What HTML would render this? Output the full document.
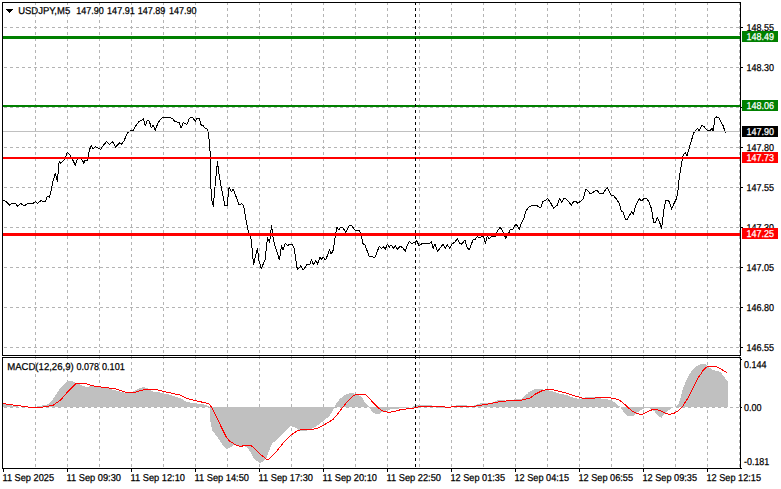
<!DOCTYPE html>
<html><head><meta charset="utf-8"><title>USDJPY,M5</title>
<style>html,body{margin:0;padding:0;background:#fff;overflow:hidden}svg{display:block}text{font-family:"Liberation Sans",sans-serif;}</style>
</head><body>
<svg width="781" height="489" viewBox="0 0 781 489">
<rect x="0" y="0" width="781" height="489" fill="#ffffff"/>
<g shape-rendering="crispEdges" stroke="#b4b4b4" stroke-width="1" stroke-dasharray="3 3" fill="none">
<line x1="35.5" y1="2" x2="35.5" y2="355"/>
<line x1="35.5" y1="356" x2="35.5" y2="468"/>
<line x1="67.5" y1="2" x2="67.5" y2="355"/>
<line x1="67.5" y1="356" x2="67.5" y2="468"/>
<line x1="99.5" y1="2" x2="99.5" y2="355"/>
<line x1="99.5" y1="356" x2="99.5" y2="468"/>
<line x1="131.5" y1="2" x2="131.5" y2="355"/>
<line x1="131.5" y1="356" x2="131.5" y2="468"/>
<line x1="163.5" y1="2" x2="163.5" y2="355"/>
<line x1="163.5" y1="356" x2="163.5" y2="468"/>
<line x1="195.5" y1="2" x2="195.5" y2="355"/>
<line x1="195.5" y1="356" x2="195.5" y2="468"/>
<line x1="227.5" y1="2" x2="227.5" y2="355"/>
<line x1="227.5" y1="356" x2="227.5" y2="468"/>
<line x1="259.5" y1="2" x2="259.5" y2="355"/>
<line x1="259.5" y1="356" x2="259.5" y2="468"/>
<line x1="291.5" y1="2" x2="291.5" y2="355"/>
<line x1="291.5" y1="356" x2="291.5" y2="468"/>
<line x1="323.5" y1="2" x2="323.5" y2="355"/>
<line x1="323.5" y1="356" x2="323.5" y2="468"/>
<line x1="355.5" y1="2" x2="355.5" y2="355"/>
<line x1="355.5" y1="356" x2="355.5" y2="468"/>
<line x1="387.5" y1="2" x2="387.5" y2="355"/>
<line x1="387.5" y1="356" x2="387.5" y2="468"/>
<line x1="419.5" y1="2" x2="419.5" y2="355"/>
<line x1="419.5" y1="356" x2="419.5" y2="468"/>
<line x1="451.5" y1="2" x2="451.5" y2="355"/>
<line x1="451.5" y1="356" x2="451.5" y2="468"/>
<line x1="483.5" y1="2" x2="483.5" y2="355"/>
<line x1="483.5" y1="356" x2="483.5" y2="468"/>
<line x1="515.5" y1="2" x2="515.5" y2="355"/>
<line x1="515.5" y1="356" x2="515.5" y2="468"/>
<line x1="547.5" y1="2" x2="547.5" y2="355"/>
<line x1="547.5" y1="356" x2="547.5" y2="468"/>
<line x1="579.5" y1="2" x2="579.5" y2="355"/>
<line x1="579.5" y1="356" x2="579.5" y2="468"/>
<line x1="611.5" y1="2" x2="611.5" y2="355"/>
<line x1="611.5" y1="356" x2="611.5" y2="468"/>
<line x1="643.5" y1="2" x2="643.5" y2="355"/>
<line x1="643.5" y1="356" x2="643.5" y2="468"/>
<line x1="675.5" y1="2" x2="675.5" y2="355"/>
<line x1="675.5" y1="356" x2="675.5" y2="468"/>
<line x1="707.5" y1="2" x2="707.5" y2="355"/>
<line x1="707.5" y1="356" x2="707.5" y2="468"/>
<line x1="739.5" y1="2" x2="739.5" y2="355"/>
<line x1="739.5" y1="356" x2="739.5" y2="468"/>
<line x1="4" y1="27.5" x2="740" y2="27.5"/>
<line x1="4" y1="67.5" x2="740" y2="67.5"/>
<line x1="4" y1="107.5" x2="740" y2="107.5"/>
<line x1="4" y1="147.5" x2="740" y2="147.5"/>
<line x1="4" y1="187.5" x2="740" y2="187.5"/>
<line x1="4" y1="227.5" x2="740" y2="227.5"/>
<line x1="4" y1="267.5" x2="740" y2="267.5"/>
<line x1="4" y1="307.5" x2="740" y2="307.5"/>
<line x1="4" y1="347.5" x2="740" y2="347.5"/>
<line x1="4" y1="407.5" x2="740" y2="407.5"/>
</g>
<path shape-rendering="crispEdges" fill="#c0c0c0" d="M3 403h1V407h-1zM4 404h1V407h-1zM5 404h1V407h-1zM6 404h1V407h-1zM7 404h1V407h-1zM8 405h1V407h-1zM9 405h1V407h-1zM10 405h1V407h-1zM11 405h1V407h-1zM12 406h1V407h-1zM13 406h1V407h-1zM14 406h1V407h-1zM15 406h1V407h-1zM16 406h1V407h-1zM17 406h1V407h-1zM37 406h1V407h-1zM38 406h1V407h-1zM39 406h1V407h-1zM40 406h1V407h-1zM41 406h1V407h-1zM42 405h1V407h-1zM43 405h1V407h-1zM44 405h1V407h-1zM45 405h1V407h-1zM46 405h1V407h-1zM47 404h1V407h-1zM48 404h1V407h-1zM49 403h1V407h-1zM50 402h1V407h-1zM51 401h1V407h-1zM52 400h1V407h-1zM53 398h1V407h-1zM54 397h1V407h-1zM55 395h1V407h-1zM56 394h1V407h-1zM57 392h1V407h-1zM58 391h1V407h-1zM59 389h1V407h-1zM60 388h1V407h-1zM61 387h1V407h-1zM62 386h1V407h-1zM63 385h1V407h-1zM64 384h1V407h-1zM65 383h1V407h-1zM66 382h1V407h-1zM67 381h1V407h-1zM68 381h1V407h-1zM69 381h1V407h-1zM70 381h1V407h-1zM71 381h1V407h-1zM72 381h1V407h-1zM73 382h1V407h-1zM74 382h1V407h-1zM75 383h1V407h-1zM76 384h1V407h-1zM77 384h1V407h-1zM78 384h1V407h-1zM79 384h1V407h-1zM80 385h1V407h-1zM81 385h1V407h-1zM82 386h1V407h-1zM83 386h1V407h-1zM84 386h1V407h-1zM85 387h1V407h-1zM86 387h1V407h-1zM87 387h1V407h-1zM88 387h1V407h-1zM89 386h1V407h-1zM90 386h1V407h-1zM91 386h1V407h-1zM92 386h1V407h-1zM93 386h1V407h-1zM94 386h1V407h-1zM95 386h1V407h-1zM96 387h1V407h-1zM97 387h1V407h-1zM98 387h1V407h-1zM99 387h1V407h-1zM100 387h1V407h-1zM101 387h1V407h-1zM102 387h1V407h-1zM103 388h1V407h-1zM104 388h1V407h-1zM105 388h1V407h-1zM106 388h1V407h-1zM107 388h1V407h-1zM108 388h1V407h-1zM109 388h1V407h-1zM110 389h1V407h-1zM111 389h1V407h-1zM112 390h1V407h-1zM113 390h1V407h-1zM114 390h1V407h-1zM115 390h1V407h-1zM116 391h1V407h-1zM117 391h1V407h-1zM118 391h1V407h-1zM119 391h1V407h-1zM120 392h1V407h-1zM121 392h1V407h-1zM122 392h1V407h-1zM123 392h1V407h-1zM124 393h1V407h-1zM125 393h1V407h-1zM126 392h1V407h-1zM127 392h1V407h-1zM128 392h1V407h-1zM129 392h1V407h-1zM130 392h1V407h-1zM131 392h1V407h-1zM132 392h1V407h-1zM133 391h1V407h-1zM134 391h1V407h-1zM135 390h1V407h-1zM136 390h1V407h-1zM137 389h1V407h-1zM138 389h1V407h-1zM139 388h1V407h-1zM140 388h1V407h-1zM141 388h1V407h-1zM142 387h1V407h-1zM143 387h1V407h-1zM144 387h1V407h-1zM145 388h1V407h-1zM146 388h1V407h-1zM147 388h1V407h-1zM148 389h1V407h-1zM149 389h1V407h-1zM150 390h1V407h-1zM151 391h1V407h-1zM152 391h1V407h-1zM153 392h1V407h-1zM154 392h1V407h-1zM155 392h1V407h-1zM156 392h1V407h-1zM157 392h1V407h-1zM158 392h1V407h-1zM159 392h1V407h-1zM160 393h1V407h-1zM161 393h1V407h-1zM162 393h1V407h-1zM163 393h1V407h-1zM164 394h1V407h-1zM165 394h1V407h-1zM166 394h1V407h-1zM167 394h1V407h-1zM168 394h1V407h-1zM169 395h1V407h-1zM170 395h1V407h-1zM171 395h1V407h-1zM172 396h1V407h-1zM173 396h1V407h-1zM174 396h1V407h-1zM175 397h1V407h-1zM176 397h1V407h-1zM177 397h1V407h-1zM178 398h1V407h-1zM179 398h1V407h-1zM180 398h1V407h-1zM181 399h1V407h-1zM182 399h1V407h-1zM183 400h1V407h-1zM184 401h1V407h-1zM185 401h1V407h-1zM186 402h1V407h-1zM187 402h1V407h-1zM188 402h1V407h-1zM189 402h1V407h-1zM190 403h1V407h-1zM191 403h1V407h-1zM192 403h1V407h-1zM193 403h1V407h-1zM194 403h1V407h-1zM195 403h1V407h-1zM196 403h1V407h-1zM197 404h1V407h-1zM198 404h1V407h-1zM199 404h1V407h-1zM200 404h1V407h-1zM201 404h1V407h-1zM202 404h1V407h-1zM203 404h1V407h-1zM204 405h1V407h-1zM205 405h1V407h-1zM206 405h1V407h-1zM207 406h1V407h-1zM208 406h1V407h-1zM210 407h1V422h-1zM211 407h1V427h-1zM212 407h1V431h-1zM213 407h1V432h-1zM214 407h1V433h-1zM215 407h1V435h-1zM216 407h1V436h-1zM217 407h1V437h-1zM218 407h1V439h-1zM219 407h1V440h-1zM220 407h1V442h-1zM221 407h1V443h-1zM222 407h1V445h-1zM223 407h1V446h-1zM224 407h1V447h-1zM225 407h1V448h-1zM226 407h1V449h-1zM227 407h1V449h-1zM228 407h1V448h-1zM229 407h1V448h-1zM230 407h1V447h-1zM231 407h1V447h-1zM232 407h1V446h-1zM233 407h1V445h-1zM234 407h1V445h-1zM235 407h1V445h-1zM236 407h1V445h-1zM237 407h1V445h-1zM238 407h1V445h-1zM239 407h1V446h-1zM240 407h1V446h-1zM241 407h1V446h-1zM242 407h1V446h-1zM243 407h1V446h-1zM244 407h1V446h-1zM245 407h1V447h-1zM246 407h1V447h-1zM247 407h1V448h-1zM248 407h1V449h-1zM249 407h1V451h-1zM250 407h1V452h-1zM251 407h1V454h-1zM252 407h1V456h-1zM253 407h1V458h-1zM254 407h1V459h-1zM255 407h1V460h-1zM256 407h1V461h-1zM257 407h1V461h-1zM258 407h1V462h-1zM259 407h1V463h-1zM260 407h1V463h-1zM261 407h1V462h-1zM262 407h1V462h-1zM263 407h1V461h-1zM264 407h1V460h-1zM265 407h1V459h-1zM266 407h1V458h-1zM267 407h1V455h-1zM268 407h1V452h-1zM269 407h1V450h-1zM270 407h1V447h-1zM271 407h1V445h-1zM272 407h1V443h-1zM273 407h1V442h-1zM274 407h1V442h-1zM275 407h1V441h-1zM276 407h1V440h-1zM277 407h1V439h-1zM278 407h1V438h-1zM279 407h1V437h-1zM280 407h1V436h-1zM281 407h1V435h-1zM282 407h1V434h-1zM283 407h1V433h-1zM284 407h1V432h-1zM285 407h1V431h-1zM286 407h1V430h-1zM287 407h1V429h-1zM288 407h1V428h-1zM289 407h1V427h-1zM290 407h1V426h-1zM291 407h1V426h-1zM292 407h1V427h-1zM293 407h1V427h-1zM294 407h1V427h-1zM295 407h1V428h-1zM296 407h1V428h-1zM297 407h1V429h-1zM298 407h1V430h-1zM299 407h1V430h-1zM300 407h1V431h-1zM301 407h1V431h-1zM302 407h1V431h-1zM303 407h1V431h-1zM304 407h1V431h-1zM305 407h1V431h-1zM306 407h1V431h-1zM307 407h1V430h-1zM308 407h1V430h-1zM309 407h1V430h-1zM310 407h1V429h-1zM311 407h1V429h-1zM312 407h1V428h-1zM313 407h1V428h-1zM314 407h1V427h-1zM315 407h1V427h-1zM316 407h1V426h-1zM317 407h1V425h-1zM318 407h1V425h-1zM319 407h1V424h-1zM320 407h1V423h-1zM321 407h1V422h-1zM322 407h1V422h-1zM323 407h1V421h-1zM324 407h1V420h-1zM325 407h1V419h-1zM326 407h1V418h-1zM327 407h1V418h-1zM328 407h1V417h-1zM329 407h1V416h-1zM330 407h1V414h-1zM331 407h1V413h-1zM332 407h1V411h-1zM333 407h1V409h-1zM335 405h1V407h-1zM336 403h1V407h-1zM337 402h1V407h-1zM338 401h1V407h-1zM339 399h1V407h-1zM340 398h1V407h-1zM341 398h1V407h-1zM342 397h1V407h-1zM343 396h1V407h-1zM344 395h1V407h-1zM345 395h1V407h-1zM346 394h1V407h-1zM347 394h1V407h-1zM348 394h1V407h-1zM349 393h1V407h-1zM350 393h1V407h-1zM351 393h1V407h-1zM352 393h1V407h-1zM353 393h1V407h-1zM354 394h1V407h-1zM355 394h1V407h-1zM356 395h1V407h-1zM357 395h1V407h-1zM358 395h1V407h-1zM359 396h1V407h-1zM360 396h1V407h-1zM361 397h1V407h-1zM362 398h1V407h-1zM363 400h1V407h-1zM364 402h1V407h-1zM365 403h1V407h-1zM366 404h1V407h-1zM367 405h1V407h-1zM368 406h1V407h-1zM369 407h1V408h-1zM370 407h1V409h-1zM371 407h1V411h-1zM372 407h1V412h-1zM373 407h1V413h-1zM374 407h1V413h-1zM375 407h1V414h-1zM376 407h1V414h-1zM377 407h1V414h-1zM378 407h1V414h-1zM379 407h1V414h-1zM380 407h1V413h-1zM381 407h1V412h-1zM382 407h1V412h-1zM383 407h1V411h-1zM384 407h1V411h-1zM385 407h1V411h-1zM386 407h1V410h-1zM387 407h1V410h-1zM388 407h1V410h-1zM389 407h1V410h-1zM390 407h1V409h-1zM391 407h1V409h-1zM392 407h1V409h-1zM393 407h1V409h-1zM394 407h1V409h-1zM395 407h1V409h-1zM396 407h1V409h-1zM397 407h1V409h-1zM398 407h1V409h-1zM399 407h1V408h-1zM400 407h1V408h-1zM401 407h1V408h-1zM402 407h1V408h-1zM403 407h1V408h-1zM404 407h1V408h-1zM405 407h1V408h-1zM406 407h1V408h-1zM407 407h1V408h-1zM408 407h1V408h-1zM413 406h1V407h-1zM414 406h1V407h-1zM415 405h1V407h-1zM416 405h1V407h-1zM417 405h1V407h-1zM418 405h1V407h-1zM419 405h1V407h-1zM420 405h1V407h-1zM421 405h1V407h-1zM422 405h1V407h-1zM423 405h1V407h-1zM424 405h1V407h-1zM425 405h1V407h-1zM426 405h1V407h-1zM427 405h1V407h-1zM428 405h1V407h-1zM429 405h1V407h-1zM430 405h1V407h-1zM431 405h1V407h-1zM432 406h1V407h-1zM433 406h1V407h-1zM434 406h1V407h-1zM438 407h1V408h-1zM439 407h1V408h-1zM440 407h1V408h-1zM441 407h1V408h-1zM442 407h1V408h-1zM443 407h1V408h-1zM444 407h1V408h-1zM445 407h1V408h-1zM446 407h1V408h-1zM447 407h1V408h-1zM452 406h1V407h-1zM453 406h1V407h-1zM454 406h1V407h-1zM455 406h1V407h-1zM456 405h1V407h-1zM457 405h1V407h-1zM458 405h1V407h-1zM459 405h1V407h-1zM460 405h1V407h-1zM461 405h1V407h-1zM462 405h1V407h-1zM463 405h1V407h-1zM464 405h1V407h-1zM465 405h1V407h-1zM466 405h1V407h-1zM467 406h1V407h-1zM468 406h1V407h-1zM469 406h1V407h-1zM470 406h1V407h-1zM471 406h1V407h-1zM472 406h1V407h-1zM473 406h1V407h-1zM474 405h1V407h-1zM475 405h1V407h-1zM476 405h1V407h-1zM477 404h1V407h-1zM478 404h1V407h-1zM479 404h1V407h-1zM480 403h1V407h-1zM481 403h1V407h-1zM482 403h1V407h-1zM483 403h1V407h-1zM484 403h1V407h-1zM485 403h1V407h-1zM486 403h1V407h-1zM487 403h1V407h-1zM488 403h1V407h-1zM489 403h1V407h-1zM490 403h1V407h-1zM491 403h1V407h-1zM492 402h1V407h-1zM493 402h1V407h-1zM494 402h1V407h-1zM495 401h1V407h-1zM496 401h1V407h-1zM497 400h1V407h-1zM498 400h1V407h-1zM499 400h1V407h-1zM500 400h1V407h-1zM501 400h1V407h-1zM502 400h1V407h-1zM503 400h1V407h-1zM504 400h1V407h-1zM505 401h1V407h-1zM506 401h1V407h-1zM507 401h1V407h-1zM508 401h1V407h-1zM509 401h1V407h-1zM510 401h1V407h-1zM511 401h1V407h-1zM512 400h1V407h-1zM513 400h1V407h-1zM514 399h1V407h-1zM515 399h1V407h-1zM516 399h1V407h-1zM517 399h1V407h-1zM518 399h1V407h-1zM519 399h1V407h-1zM520 399h1V407h-1zM521 399h1V407h-1zM522 398h1V407h-1zM523 397h1V407h-1zM524 396h1V407h-1zM525 395h1V407h-1zM526 394h1V407h-1zM527 394h1V407h-1zM528 392h1V407h-1zM529 392h1V407h-1zM530 391h1V407h-1zM531 391h1V407h-1zM532 390h1V407h-1zM533 390h1V407h-1zM534 389h1V407h-1zM535 389h1V407h-1zM536 389h1V407h-1zM537 389h1V407h-1zM538 389h1V407h-1zM539 389h1V407h-1zM540 389h1V407h-1zM541 389h1V407h-1zM542 389h1V407h-1zM543 390h1V407h-1zM544 390h1V407h-1zM545 390h1V407h-1zM546 390h1V407h-1zM547 390h1V407h-1zM548 390h1V407h-1zM549 391h1V407h-1zM550 391h1V407h-1zM551 391h1V407h-1zM552 391h1V407h-1zM553 392h1V407h-1zM554 392h1V407h-1zM555 392h1V407h-1zM556 393h1V407h-1zM557 393h1V407h-1zM558 393h1V407h-1zM559 394h1V407h-1zM560 394h1V407h-1zM561 394h1V407h-1zM562 394h1V407h-1zM563 394h1V407h-1zM564 395h1V407h-1zM565 395h1V407h-1zM566 395h1V407h-1zM567 395h1V407h-1zM568 396h1V407h-1zM569 396h1V407h-1zM570 397h1V407h-1zM571 397h1V407h-1zM572 397h1V407h-1zM573 398h1V407h-1zM574 398h1V407h-1zM575 398h1V407h-1zM576 398h1V407h-1zM577 399h1V407h-1zM578 399h1V407h-1zM579 399h1V407h-1zM580 399h1V407h-1zM581 398h1V407h-1zM582 398h1V407h-1zM583 398h1V407h-1zM584 398h1V407h-1zM585 397h1V407h-1zM586 397h1V407h-1zM587 397h1V407h-1zM588 397h1V407h-1zM589 397h1V407h-1zM590 397h1V407h-1zM591 397h1V407h-1zM592 397h1V407h-1zM593 397h1V407h-1zM594 397h1V407h-1zM595 397h1V407h-1zM596 398h1V407h-1zM597 398h1V407h-1zM598 398h1V407h-1zM599 398h1V407h-1zM600 398h1V407h-1zM601 399h1V407h-1zM602 399h1V407h-1zM603 399h1V407h-1zM604 399h1V407h-1zM605 399h1V407h-1zM606 399h1V407h-1zM607 399h1V407h-1zM608 400h1V407h-1zM609 400h1V407h-1zM610 400h1V407h-1zM611 401h1V407h-1zM612 401h1V407h-1zM613 402h1V407h-1zM614 402h1V407h-1zM615 403h1V407h-1zM616 404h1V407h-1zM617 405h1V407h-1zM618 406h1V407h-1zM619 406h1V407h-1zM621 407h1V409h-1zM622 407h1V410h-1zM623 407h1V412h-1zM624 407h1V413h-1zM625 407h1V414h-1zM626 407h1V415h-1zM627 407h1V416h-1zM628 407h1V416h-1zM629 407h1V416h-1zM630 407h1V416h-1zM631 407h1V416h-1zM632 407h1V416h-1zM633 407h1V416h-1zM634 407h1V415h-1zM635 407h1V414h-1zM636 407h1V413h-1zM637 407h1V412h-1zM638 407h1V412h-1zM639 407h1V411h-1zM640 407h1V410h-1zM641 407h1V410h-1zM642 407h1V409h-1zM643 407h1V409h-1zM644 407h1V408h-1zM645 407h1V408h-1zM646 407h1V408h-1zM647 407h1V408h-1zM648 407h1V408h-1zM649 407h1V408h-1zM650 407h1V409h-1zM651 407h1V409h-1zM652 407h1V410h-1zM653 407h1V411h-1zM654 407h1V411h-1zM655 407h1V413h-1zM656 407h1V414h-1zM657 407h1V415h-1zM658 407h1V416h-1zM659 407h1V417h-1zM660 407h1V417h-1zM661 407h1V418h-1zM662 407h1V416h-1zM663 407h1V415h-1zM664 407h1V414h-1zM665 407h1V413h-1zM666 407h1V412h-1zM667 407h1V411h-1zM668 407h1V410h-1zM669 407h1V410h-1zM670 407h1V409h-1zM671 407h1V408h-1zM672 407h1V408h-1zM675 406h1V407h-1zM676 406h1V407h-1zM677 405h1V407h-1zM678 404h1V407h-1zM679 401h1V407h-1zM680 398h1V407h-1zM681 394h1V407h-1zM682 390h1V407h-1zM683 387h1V407h-1zM684 385h1V407h-1zM685 382h1V407h-1zM686 380h1V407h-1zM687 378h1V407h-1zM688 376h1V407h-1zM689 374h1V407h-1zM690 373h1V407h-1zM691 371h1V407h-1zM692 370h1V407h-1zM693 369h1V407h-1zM694 368h1V407h-1zM695 367h1V407h-1zM696 366h1V407h-1zM697 366h1V407h-1zM698 365h1V407h-1zM699 365h1V407h-1zM700 364h1V407h-1zM701 364h1V407h-1zM702 364h1V407h-1zM703 364h1V407h-1zM704 364h1V407h-1zM705 364h1V407h-1zM706 365h1V407h-1zM707 366h1V407h-1zM708 367h1V407h-1zM709 368h1V407h-1zM710 368h1V407h-1zM711 369h1V407h-1zM712 370h1V407h-1zM713 370h1V407h-1zM714 370h1V407h-1zM715 371h1V407h-1zM716 371h1V407h-1zM717 371h1V407h-1zM718 371h1V407h-1zM719 372h1V407h-1zM720 372h1V407h-1zM721 373h1V407h-1zM722 375h1V407h-1zM723 376h1V407h-1zM724 377h1V407h-1zM725 379h1V407h-1zM726 380h1V407h-1zM727 381h1V407h-1z"/>
<polyline shape-rendering="crispEdges" fill="none" stroke="#000" stroke-width="1" stroke-linejoin="round" points="3.0,200.2 5.8,201.2 9.7,205.2 11.7,203.6 15.3,203.2 17.5,206.2 20.8,203.6 23.3,205.2 25.3,205.2 27.5,203.6 33.3,203.2 35.5,201.6 37.5,203.2 40.8,200.7 43.6,201.6 45.3,201.6 47.4,196.2 49.4,197.4 51.3,189.9 53.3,179.9 55.3,173.6 57.4,181.6 59.1,161.6 60.8,163.3 65.2,159.1 67.1,152.5 69.1,154.1 71.6,157.5 75.4,165.3 77.4,159.1 79.9,157.5 82.7,160.8 83.7,163.3 85.2,160.0 87.4,160.8 89.4,150.0 91.2,145.8 93.2,149.1 95.2,146.6 98.2,148.0 100.7,149.6 103.2,145.3 106.5,141.7 109.5,144.6 112.8,141.7 115.7,147.1 119.5,143.0 121.5,144.1 124.0,140.8 127.3,133.3 130.8,130.5 133.3,130.8 135.3,126.3 139.1,121.3 141.6,120.3 143.3,118.6 145.3,125.8 147.1,120.8 149.1,120.8 151.3,127.5 153.3,125.3 155.3,130.3 157.5,124.1 160.0,120.0 163.0,117.2 168.3,117.2 172.4,118.3 174.9,121.6 179.1,122.5 181.1,128.0 183.3,122.5 186.9,124.6 189.1,119.1 191.1,117.2 192.9,117.5 195.2,121.6 197.1,118.3 199.1,118.6 201.2,125.0 203.2,125.8 205.4,128.3 207.1,128.8 208.7,134.1 209.6,148.3 210.7,156.6 210.7,184.0 211.7,200.0 213.3,206.6 215.0,186.7 217.4,161.6 219.1,175.0 220.8,185.0 225.0,205.8 227.0,205.8 229.1,187.5 231.3,191.6 233.3,189.1 239.1,205.0 241.6,203.6 243.6,205.8 245.3,215.8 248.3,231.5 251.3,240.0 253.6,264.9 255.3,256.6 257.5,248.3 259.1,261.6 261.3,268.3 265.0,259.9 267.5,237.5 269.6,242.5 271.6,225.0 273.3,240.0 279.4,259.9 281.6,245.0 282.9,250.0 285.3,243.3 287.4,245.8 289.9,244.1 292.4,245.0 294.1,248.3 297.4,269.9 300.8,265.8 303.2,269.9 307.4,264.1 309.6,264.9 311.6,259.6 313.2,264.9 315.7,260.8 317.4,264.1 319.9,257.4 321.6,259.1 323.2,257.4 325.4,259.9 327.4,255.8 329.5,249.1 331.2,254.1 333.2,250.0 335.7,233.3 337.0,227.5 339.0,230.0 340.7,227.0 342.9,227.5 345.7,232.5 349.0,225.8 351.5,225.3 354.8,230.0 359.0,230.5 360.7,232.5 363.0,243.6 365.0,244.9 369.2,256.6 371.7,256.6 375.0,257.4 376.6,253.3 379.1,246.6 381.6,248.3 383.3,246.6 385.3,249.1 387.5,244.1 389.1,247.4 391.1,244.9 393.3,248.3 395.3,245.8 397.5,249.1 400.0,246.3 402.4,247.4 405.3,251.3 407.4,244.9 409.4,241.3 411.6,243.3 414.1,242.9 416.6,240.8 419.1,245.8 422.4,243.3 426.6,243.6 429.1,244.1 431.2,241.6 433.2,248.3 434.9,244.1 437.4,251.3 439.9,248.3 443.2,244.1 445.2,248.3 447.4,244.9 449.9,248.3 451.5,244.6 455.2,241.6 457.4,238.6 459.9,243.6 461.9,244.1 464.9,240.0 467.4,248.3 469.5,249.6 473.2,239.1 474.8,240.0 477.3,236.6 479.8,238.0 483.2,235.8 485.6,243.3 487.2,235.8 489.1,238.6 491.7,236.2 495.3,236.2 497.5,230.8 500.0,227.4 502.0,229.9 505.8,238.2 508.3,234.1 510.5,229.1 512.5,229.9 515.8,224.1 517.5,225.8 519.4,229.9 520.8,224.1 523.6,219.1 525.8,211.6 528.3,207.4 531.6,205.5 536.6,205.5 540.8,208.0 542.9,201.3 544.9,200.8 547.4,198.6 549.9,201.6 553.6,208.3 557.4,205.0 559.6,198.6 561.6,202.5 563.6,198.6 565.7,198.6 571.5,205.0 573.5,201.6 575.7,201.3 577.7,203.3 579.9,201.6 583.2,199.1 585.7,189.6 587.4,190.0 589.9,193.3 592.4,193.0 595.7,190.3 597.3,190.8 599.5,193.3 603.2,193.3 607.2,187.5 610.8,195.0 613.6,195.8 616.6,199.1 619.6,204.1 621.3,210.8 623.3,212.4 625.3,219.1 627.5,219.1 631.6,211.6 633.3,214.1 635.8,205.8 639.1,198.6 641.6,200.8 644.1,198.6 646.9,198.6 649.1,202.4 651.6,209.1 653.6,222.4 655.3,222.4 657.4,217.4 659.9,223.2 661.6,228.2 664.1,208.3 665.7,200.8 668.2,200.3 669.6,202.4 671.6,209.1 674.1,203.3 676.6,198.3 677.9,191.6 679.1,179.0 681.6,163.0 683.3,154.5 685.3,152.4 687.0,155.8 689.1,148.3 691.6,140.0 693.6,133.0 697.4,128.3 699.1,130.8 701.9,125.0 704.1,126.6 707.4,130.8 709.9,130.8 711.9,128.3 713.2,130.8 714.9,118.3 716.6,117.0 718.6,117.5 723.2,125.8 725.2,132.5 727.4,131.2"/>
<polyline shape-rendering="crispEdges" fill="none" stroke="#ff0000" stroke-width="1" stroke-linejoin="round" points="3.0,403.6 16.0,405.4 30.0,407.2 41.5,407.2 53.0,405.4 61.0,399.6 69.0,390.4 76.0,383.5 85.7,383.5 92.2,385.8 115.2,388.8 126.8,392.7 136.0,392.0 145.2,389.3 155.6,389.3 166.0,392.0 180.0,395.0 187.0,398.5 196.0,400.8 208.8,403.6 212.3,408.2 219.2,422.7 226.0,436.5 229.5,441.1 235.3,444.6 240.0,446.4 249.0,445.0 252.6,446.4 259.5,453.8 266.4,459.1 268.7,459.1 275.6,452.6 283.7,442.3 290.6,435.4 297.5,430.7 301.0,429.6 311.4,429.6 318.3,428.0 324.0,425.0 333.3,419.2 339.0,412.3 346.0,403.1 352.9,396.2 356.3,394.3 360.0,394.3 365.0,394.3 371.5,400.8 379.6,408.9 383.0,411.2 388.8,412.3 392.3,411.9 401.5,409.5 413.0,408.2 422.2,406.1 433.7,406.1 447.6,407.2 459.0,406.5 475.2,406.1 484.5,404.7 498.3,402.0 507.5,400.8 521.3,400.3 526.0,398.9 530.0,398.0 535.8,393.9 542.7,390.4 548.4,389.3 553.0,389.7 564.6,392.7 576.0,396.2 584.2,398.5 592.2,398.5 599.0,397.3 609.5,397.8 618.7,399.6 624.5,404.2 631.4,410.5 636.0,413.0 639.5,414.2 643.0,414.2 648.7,411.2 653.3,409.3 657.9,410.0 662.5,411.6 667.0,413.9 670.6,414.2 675.2,412.8 679.8,409.5 683.3,405.4 689.0,396.2 693.6,387.0 698.2,377.7 700.6,374.4 702.9,370.8 705.5,367.8 708.8,366.2 715.4,366.2 721.0,369.1 726.8,372.4"/>
<g shape-rendering="crispEdges">
<rect x="3" y="131" width="737" height="1" fill="#c0c0c0"/>
<rect x="3" y="36" width="737" height="3" fill="#008000"/>
<rect x="3" y="105" width="737" height="2" fill="#008000"/>
<rect x="3" y="157" width="737" height="2" fill="#ff0000"/>
<rect x="3" y="233" width="737" height="3" fill="#ff0000"/>
<line x1="415.5" y1="2" x2="415.5" y2="355" stroke="#000" stroke-width="1" stroke-dasharray="3 3"/>
<line x1="415.5" y1="356" x2="415.5" y2="468" stroke="#000" stroke-width="1" stroke-dasharray="3 3"/>
<g fill="#000">
<rect x="2" y="2" width="739" height="1"/>
<rect x="2" y="355" width="739" height="1"/>
<rect x="2" y="357" width="739" height="1"/>
<rect x="2" y="468" width="740" height="1"/>
<rect x="2" y="2" width="1" height="354"/>
<rect x="2" y="357" width="1" height="112"/>
<rect x="740" y="2" width="1" height="354"/>
<rect x="740" y="357" width="1" height="112"/>
<rect x="741" y="27" width="2" height="1"/>
<rect x="741" y="67" width="2" height="1"/>
<rect x="741" y="107" width="2" height="1"/>
<rect x="741" y="147" width="2" height="1"/>
<rect x="741" y="187" width="2" height="1"/>
<rect x="741" y="227" width="2" height="1"/>
<rect x="741" y="267" width="2" height="1"/>
<rect x="741" y="307" width="2" height="1"/>
<rect x="741" y="347" width="2" height="1"/>
<rect x="741" y="359" width="1" height="1"/>
<rect x="741" y="407" width="1" height="1"/>
<rect x="3" y="469" width="1" height="3"/>
<rect x="67" y="469" width="1" height="3"/>
<rect x="131" y="469" width="1" height="3"/>
<rect x="195" y="469" width="1" height="3"/>
<rect x="259" y="469" width="1" height="3"/>
<rect x="323" y="469" width="1" height="3"/>
<rect x="387" y="469" width="1" height="3"/>
<rect x="451" y="469" width="1" height="3"/>
<rect x="515" y="469" width="1" height="3"/>
<rect x="579" y="469" width="1" height="3"/>
<rect x="643" y="469" width="1" height="3"/>
<rect x="707" y="469" width="1" height="3"/>
</g>
</g>
<text x="746.5" y="31" text-rendering="geometricPrecision" font-size="10.0" fill="#000" stroke="#000" stroke-width="0.25" textLength="27.5" lengthAdjust="spacingAndGlyphs" xml:space="preserve">148.55</text>
<text x="746.5" y="71" text-rendering="geometricPrecision" font-size="10.0" fill="#000" stroke="#000" stroke-width="0.25" textLength="27.5" lengthAdjust="spacingAndGlyphs" xml:space="preserve">148.30</text>
<text x="746.5" y="151" text-rendering="geometricPrecision" font-size="10.0" fill="#000" stroke="#000" stroke-width="0.25" textLength="27.5" lengthAdjust="spacingAndGlyphs" xml:space="preserve">147.80</text>
<text x="746.5" y="191" text-rendering="geometricPrecision" font-size="10.0" fill="#000" stroke="#000" stroke-width="0.25" textLength="27.5" lengthAdjust="spacingAndGlyphs" xml:space="preserve">147.55</text>
<text x="746.5" y="231" text-rendering="geometricPrecision" font-size="10.0" fill="#000" stroke="#000" stroke-width="0.25" textLength="27.5" lengthAdjust="spacingAndGlyphs" xml:space="preserve">147.30</text>
<text x="746.5" y="271" text-rendering="geometricPrecision" font-size="10.0" fill="#000" stroke="#000" stroke-width="0.25" textLength="27.5" lengthAdjust="spacingAndGlyphs" xml:space="preserve">147.05</text>
<text x="746.5" y="311" text-rendering="geometricPrecision" font-size="10.0" fill="#000" stroke="#000" stroke-width="0.25" textLength="27.5" lengthAdjust="spacingAndGlyphs" xml:space="preserve">146.80</text>
<text x="746.5" y="351" text-rendering="geometricPrecision" font-size="10.0" fill="#000" stroke="#000" stroke-width="0.25" textLength="27.5" lengthAdjust="spacingAndGlyphs" xml:space="preserve">146.55</text>
<g shape-rendering="crispEdges">
<rect x="742" y="31" width="36" height="11" fill="#008000"/>
<rect x="742" y="100" width="36" height="11" fill="#008000"/>
<rect x="742" y="126" width="36" height="11" fill="#000000"/>
<rect x="742" y="152" width="36" height="11" fill="#ff0000"/>
<rect x="742" y="228" width="36" height="11" fill="#ff0000"/>
</g>
<text x="746.5" y="40" text-rendering="geometricPrecision" font-size="10.0" fill="#fff" stroke="#fff" stroke-width="0.25" textLength="27.5" lengthAdjust="spacingAndGlyphs" xml:space="preserve">148.49</text>
<text x="746.5" y="109" text-rendering="geometricPrecision" font-size="10.0" fill="#fff" stroke="#fff" stroke-width="0.25" textLength="27.5" lengthAdjust="spacingAndGlyphs" xml:space="preserve">148.06</text>
<text x="746.5" y="135" text-rendering="geometricPrecision" font-size="10.0" fill="#fff" stroke="#fff" stroke-width="0.25" textLength="27.5" lengthAdjust="spacingAndGlyphs" xml:space="preserve">147.90</text>
<text x="746.5" y="161" text-rendering="geometricPrecision" font-size="10.0" fill="#fff" stroke="#fff" stroke-width="0.25" textLength="27.5" lengthAdjust="spacingAndGlyphs" xml:space="preserve">147.73</text>
<text x="746.5" y="237" text-rendering="geometricPrecision" font-size="10.0" fill="#fff" stroke="#fff" stroke-width="0.25" textLength="27.5" lengthAdjust="spacingAndGlyphs" xml:space="preserve">147.25</text>
<text x="744" y="368" text-rendering="geometricPrecision" font-size="10.0" fill="#000" stroke="#000" stroke-width="0.25" textLength="22.5" lengthAdjust="spacingAndGlyphs" xml:space="preserve">0.144</text>
<text x="744" y="411" text-rendering="geometricPrecision" font-size="10.0" fill="#000" stroke="#000" stroke-width="0.25" textLength="17.5" lengthAdjust="spacingAndGlyphs" xml:space="preserve">0.00</text>
<text x="744" y="465" text-rendering="geometricPrecision" font-size="10.0" fill="#000" stroke="#000" stroke-width="0.25" textLength="25.3" lengthAdjust="spacingAndGlyphs" xml:space="preserve">-0.181</text>
<path shape-rendering="crispEdges" d="M6 9h7v1h-7zM7 10h5v1h-5zM8 11h3v1h-3zM9 12h1v1h-1z" fill="#000"/>
<text x="18.2" y="14" text-rendering="geometricPrecision" font-size="10.0" fill="#000" stroke="#000" stroke-width="0.25" textLength="52" lengthAdjust="spacingAndGlyphs" xml:space="preserve">USDJPY,M5</text>
<text x="76.3" y="14" text-rendering="geometricPrecision" font-size="10.0" fill="#000" stroke="#000" stroke-width="0.25" textLength="27.6" lengthAdjust="spacingAndGlyphs" xml:space="preserve">147.90</text>
<text x="107.1" y="14" text-rendering="geometricPrecision" font-size="10.0" fill="#000" stroke="#000" stroke-width="0.25" textLength="27.6" lengthAdjust="spacingAndGlyphs" xml:space="preserve">147.91</text>
<text x="137.8" y="14" text-rendering="geometricPrecision" font-size="10.0" fill="#000" stroke="#000" stroke-width="0.25" textLength="27.6" lengthAdjust="spacingAndGlyphs" xml:space="preserve">147.89</text>
<text x="169" y="14" text-rendering="geometricPrecision" font-size="10.0" fill="#000" stroke="#000" stroke-width="0.25" textLength="27.6" lengthAdjust="spacingAndGlyphs" xml:space="preserve">147.90</text>
<text x="7.2" y="370" text-rendering="geometricPrecision" font-size="10.0" fill="#000" stroke="#000" stroke-width="0.25" textLength="66.5" lengthAdjust="spacingAndGlyphs" xml:space="preserve">MACD(12,26,9)</text>
<text x="76.5" y="370" text-rendering="geometricPrecision" font-size="10.0" fill="#000" stroke="#000" stroke-width="0.25" textLength="22.5" lengthAdjust="spacingAndGlyphs" xml:space="preserve">0.078</text>
<text x="102" y="370" text-rendering="geometricPrecision" font-size="10.0" fill="#000" stroke="#000" stroke-width="0.25" textLength="22.8" lengthAdjust="spacingAndGlyphs" xml:space="preserve">0.101</text>
<text x="2.5" y="481" text-rendering="geometricPrecision" font-size="10.0" fill="#000" stroke="#000" stroke-width="0.25" textLength="51.5" lengthAdjust="spacingAndGlyphs" xml:space="preserve">11 Sep 2025</text>
<text x="66.5" y="481" text-rendering="geometricPrecision" font-size="10.0" fill="#000" stroke="#000" stroke-width="0.25" textLength="54.5" lengthAdjust="spacingAndGlyphs" xml:space="preserve">11 Sep 09:30</text>
<text x="130.5" y="481" text-rendering="geometricPrecision" font-size="10.0" fill="#000" stroke="#000" stroke-width="0.25" textLength="54.5" lengthAdjust="spacingAndGlyphs" xml:space="preserve">11 Sep 12:10</text>
<text x="194.5" y="481" text-rendering="geometricPrecision" font-size="10.0" fill="#000" stroke="#000" stroke-width="0.25" textLength="54.5" lengthAdjust="spacingAndGlyphs" xml:space="preserve">11 Sep 14:50</text>
<text x="258.5" y="481" text-rendering="geometricPrecision" font-size="10.0" fill="#000" stroke="#000" stroke-width="0.25" textLength="54.5" lengthAdjust="spacingAndGlyphs" xml:space="preserve">11 Sep 17:30</text>
<text x="322.5" y="481" text-rendering="geometricPrecision" font-size="10.0" fill="#000" stroke="#000" stroke-width="0.25" textLength="54.5" lengthAdjust="spacingAndGlyphs" xml:space="preserve">11 Sep 20:10</text>
<text x="386.5" y="481" text-rendering="geometricPrecision" font-size="10.0" fill="#000" stroke="#000" stroke-width="0.25" textLength="54.5" lengthAdjust="spacingAndGlyphs" xml:space="preserve">11 Sep 22:50</text>
<text x="450.5" y="481" text-rendering="geometricPrecision" font-size="10.0" fill="#000" stroke="#000" stroke-width="0.25" textLength="54.5" lengthAdjust="spacingAndGlyphs" xml:space="preserve">12 Sep 01:35</text>
<text x="514.5" y="481" text-rendering="geometricPrecision" font-size="10.0" fill="#000" stroke="#000" stroke-width="0.25" textLength="54.5" lengthAdjust="spacingAndGlyphs" xml:space="preserve">12 Sep 04:15</text>
<text x="578.5" y="481" text-rendering="geometricPrecision" font-size="10.0" fill="#000" stroke="#000" stroke-width="0.25" textLength="54.5" lengthAdjust="spacingAndGlyphs" xml:space="preserve">12 Sep 06:55</text>
<text x="642.5" y="481" text-rendering="geometricPrecision" font-size="10.0" fill="#000" stroke="#000" stroke-width="0.25" textLength="54.5" lengthAdjust="spacingAndGlyphs" xml:space="preserve">12 Sep 09:35</text>
<text x="706.5" y="481" text-rendering="geometricPrecision" font-size="10.0" fill="#000" stroke="#000" stroke-width="0.25" textLength="54.5" lengthAdjust="spacingAndGlyphs" xml:space="preserve">12 Sep 12:15</text>
</svg></body></html>
